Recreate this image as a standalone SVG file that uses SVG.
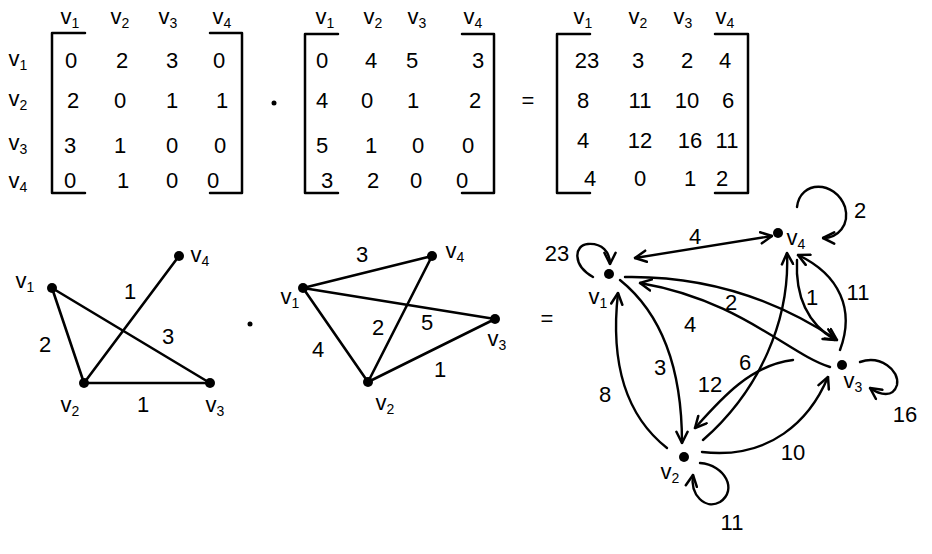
<svg xmlns="http://www.w3.org/2000/svg" width="932" height="554" viewBox="0 0 932 554">
<defs>
<style>
.t{font-family:"Liberation Sans","DejaVu Sans",sans-serif;font-size:22px;text-anchor:middle;fill:#000}
.s{font-size:14px}
.br{fill:none;stroke:#000;stroke-width:2.5;stroke-linecap:round;stroke-linejoin:round}
.e{fill:none;stroke:#000;stroke-width:2.6;stroke-linecap:round}
.c{fill:none;stroke:#000;stroke-width:2.4;stroke-linecap:round}
.n{fill:#000}
</style>
<marker id="arr" viewBox="0 0 10 10" refX="9" refY="5" markerWidth="14" markerHeight="14" markerUnits="userSpaceOnUse" orient="auto-start-reverse">
<path d="M1,1 L9,5 L1,9" fill="none" stroke="#000" stroke-width="1.8" stroke-linecap="round" stroke-linejoin="round"/>
</marker>
</defs>
<rect width="932" height="554" fill="#fff"/>

<g id="matrix-A">
<path class="br" d="M85,33 H52 V193 H85 M210,33 H242 V193 H210"/>
<text class="t" x="70" y="24">v<tspan class="s" dy="4">1</tspan></text>
<text class="t" x="120" y="24">v<tspan class="s" dy="4">2</tspan></text>
<text class="t" x="168" y="24">v<tspan class="s" dy="4">3</tspan></text>
<text class="t" x="222" y="24">v<tspan class="s" dy="4">4</tspan></text>
<text class="t" x="18" y="66">v<tspan class="s" dy="4">1</tspan></text>
<text class="t" x="18" y="106">v<tspan class="s" dy="4">2</tspan></text>
<text class="t" x="18" y="150">v<tspan class="s" dy="4">3</tspan></text>
<text class="t" x="18" y="188">v<tspan class="s" dy="4">4</tspan></text>
<text class="t" x="71" y="68">0</text><text class="t" x="122" y="68">2</text><text class="t" x="172" y="68">3</text><text class="t" x="219" y="68">0</text>
<text class="t" x="73" y="108">2</text><text class="t" x="120" y="108">0</text><text class="t" x="172" y="108">1</text><text class="t" x="222" y="108">1</text>
<text class="t" x="70" y="153">3</text><text class="t" x="120" y="153">1</text><text class="t" x="172" y="153">0</text><text class="t" x="220" y="153">0</text>
<text class="t" x="70" y="188">0</text><text class="t" x="123" y="188">1</text><text class="t" x="172" y="188">0</text><text class="t" x="213" y="188">0</text>
</g>
<circle class="n" cx="274" cy="103" r="2.5"/>

<g id="matrix-B">
<path class="br" d="M338,34 H305 V193 H338 M462,34 H494 V193 H462"/>
<text class="t" x="325" y="24">v<tspan class="s" dy="4">1</tspan></text>
<text class="t" x="373" y="24">v<tspan class="s" dy="4">2</tspan></text>
<text class="t" x="417" y="24">v<tspan class="s" dy="4">3</tspan></text>
<text class="t" x="473" y="24">v<tspan class="s" dy="4">4</tspan></text>
<text class="t" x="322" y="68">0</text><text class="t" x="371" y="68">4</text><text class="t" x="412" y="68">5</text><text class="t" x="478" y="68">3</text>
<text class="t" x="322" y="108">4</text><text class="t" x="367" y="108">0</text><text class="t" x="413" y="108">1</text><text class="t" x="475" y="108">2</text>
<text class="t" x="322" y="153">5</text><text class="t" x="371" y="153">1</text><text class="t" x="418" y="153">0</text><text class="t" x="468" y="153">0</text>
<text class="t" x="327" y="188">3</text><text class="t" x="373" y="188">2</text><text class="t" x="416" y="188">0</text><text class="t" x="462" y="188">0</text>
</g>
<text class="t" x="528" y="108">=</text>

<g id="matrix-C">
<path class="br" d="M590,34 H557 V193 H590 M715,34 H748 V193 H715"/>
<text class="t" x="583" y="24">v<tspan class="s" dy="4">1</tspan></text>
<text class="t" x="638" y="24">v<tspan class="s" dy="4">2</tspan></text>
<text class="t" x="683" y="24">v<tspan class="s" dy="4">3</tspan></text>
<text class="t" x="725" y="24">v<tspan class="s" dy="4">4</tspan></text>
<text class="t" x="587" y="68">23</text><text class="t" x="638" y="68">3</text><text class="t" x="687" y="68">2</text><text class="t" x="725" y="68">4</text>
<text class="t" x="583" y="108">8</text><text class="t" x="640" y="108">11</text><text class="t" x="687" y="108">10</text><text class="t" x="728" y="108">6</text>
<text class="t" x="583" y="148">4</text><text class="t" x="640" y="148">12</text><text class="t" x="690" y="148">16</text><text class="t" x="727" y="148">11</text>
<text class="t" x="590" y="186">4</text><text class="t" x="640" y="186">0</text><text class="t" x="690" y="186">1</text><text class="t" x="722" y="186">2</text>
</g>

<g id="connectors">
<!-- graph 1 -->
<line class="e" x1="52" y1="288" x2="84" y2="383"/>
<line class="e" x1="52" y1="288" x2="210" y2="383"/>
<line class="e" x1="84" y1="383" x2="210" y2="383"/>
<line class="e" x1="84" y1="383" x2="179" y2="256"/>
<!-- graph 2 -->
<line class="e" x1="303" y1="288" x2="432" y2="256"/>
<line class="e" x1="303" y1="288" x2="495" y2="319"/>
<line class="e" x1="303" y1="288" x2="368" y2="382"/>
<line class="e" x1="368" y1="382" x2="432" y2="256"/>
<line class="e" x1="368" y1="382" x2="495" y2="319"/>
<!-- graph 3 -->
<path class="c" d="M635,258 L772,236" marker-start="url(#arr)" marker-end="url(#arr)"/>
<path class="c" d="M625,277 Q740,275 837,340" marker-end="url(#arr)"/>
<path class="c" d="M830,367 C790,355 740,300 640,283" marker-end="url(#arr)"/>
<path class="c" d="M620,280 Q682,330 682,443" marker-end="url(#arr)"/>
<path class="c" d="M667,448 Q606,400 618,293" marker-end="url(#arr)"/>
<path class="c" d="M703,440 C760,390 790,320 787,253" marker-end="url(#arr)"/>
<path class="c" d="M793,360 C750,365 720,400 695,428" marker-end="url(#arr)"/>
<path class="c" d="M702,452 C770,460 810,420 828,377" marker-end="url(#arr)"/>
<path class="c" d="M797,260 C795,300 810,325 835,340" marker-end="url(#arr)"/>
<path class="c" d="M840,350 C855,310 840,275 798,255" marker-end="url(#arr)"/>
<path class="c" d="M593,277 C572,265 574,245 588,244 C602,243 610,252 610,264" marker-end="url(#arr)"/>
<path class="c" d="M797,207 C800,180 835,180 845,207 C850,225 838,238 823,238" marker-end="url(#arr)"/>
<path class="c" d="M860,362 C880,355 900,370 897,385 C893,398 880,395 870,388" marker-end="url(#arr)"/>
<path class="c" d="M700,463 C725,465 738,490 720,502 C705,510 690,495 693,475" marker-end="url(#arr)"/>
</g>

<g id="g1-labels">
<text class="t" x="45" y="352">2</text>
<text class="t" x="130" y="299">1</text>
<text class="t" x="168" y="344">3</text>
<text class="t" x="143" y="412">1</text>
</g>
<g id="g1-v1"><circle class="n" cx="52" cy="288" r="5"/><text class="t" x="25" y="288">v<tspan class="s" dy="4">1</tspan></text></g>
<g id="g1-v2"><circle class="n" cx="84" cy="383" r="5"/><text class="t" x="70" y="412">v<tspan class="s" dy="4">2</tspan></text></g>
<g id="g1-v3"><circle class="n" cx="210" cy="383" r="5"/><text class="t" x="215" y="412">v<tspan class="s" dy="4">3</tspan></text></g>
<g id="g1-v4"><circle class="n" cx="179" cy="256" r="5"/><text class="t" x="200" y="262">v<tspan class="s" dy="4">4</tspan></text></g>
<circle class="n" cx="250" cy="324" r="2.5"/>

<g id="g2-labels">
<text class="t" x="362" y="262">3</text>
<text class="t" x="318" y="357">4</text>
<text class="t" x="378" y="335">2</text>
<text class="t" x="427" y="330">5</text>
<text class="t" x="440" y="377">1</text>
</g>
<g id="g2-v1"><circle class="n" cx="303" cy="288" r="5"/><text class="t" x="290" y="304">v<tspan class="s" dy="4">1</tspan></text></g>
<g id="g2-v2"><circle class="n" cx="368" cy="382" r="5"/><text class="t" x="385" y="410">v<tspan class="s" dy="4">2</tspan></text></g>
<g id="g2-v3"><circle class="n" cx="495" cy="319" r="5"/><text class="t" x="497" y="346">v<tspan class="s" dy="4">3</tspan></text></g>
<g id="g2-v4"><circle class="n" cx="432" cy="256" r="5"/><text class="t" x="455" y="258">v<tspan class="s" dy="4">4</tspan></text></g>
<text class="t" x="547" y="326">=</text>

<g id="g3-labels">
<text class="t" x="557" y="261">23</text>
<text class="t" x="860" y="218">2</text>
<text class="t" x="905" y="422">16</text>
<text class="t" x="732" y="530">11</text>
<text class="t" x="695" y="244">4</text>
<text class="t" x="731" y="310">2</text>
<text class="t" x="690" y="332">4</text>
<text class="t" x="812" y="305">1</text>
<text class="t" x="858" y="300">11</text>
<text class="t" x="660" y="375">3</text>
<text class="t" x="745" y="370">6</text>
<text class="t" x="710" y="392">12</text>
<text class="t" x="605" y="402">8</text>
<text class="t" x="793" y="460">10</text>
</g>
<g id="g3-v1"><circle class="n" cx="609" cy="274" r="5"/><text class="t" x="598" y="304">v<tspan class="s" dy="4">1</tspan></text></g>
<g id="g3-v2"><circle class="n" cx="684" cy="457" r="5"/><text class="t" x="670" y="479">v<tspan class="s" dy="4">2</tspan></text></g>
<g id="g3-v3"><circle class="n" cx="842" cy="365" r="5"/><text class="t" x="853" y="388">v<tspan class="s" dy="4">3</tspan></text></g>
<g id="g3-v4"><circle class="n" cx="778" cy="233" r="5"/><text class="t" x="796" y="245">v<tspan class="s" dy="4">4</tspan></text></g>
</svg>
